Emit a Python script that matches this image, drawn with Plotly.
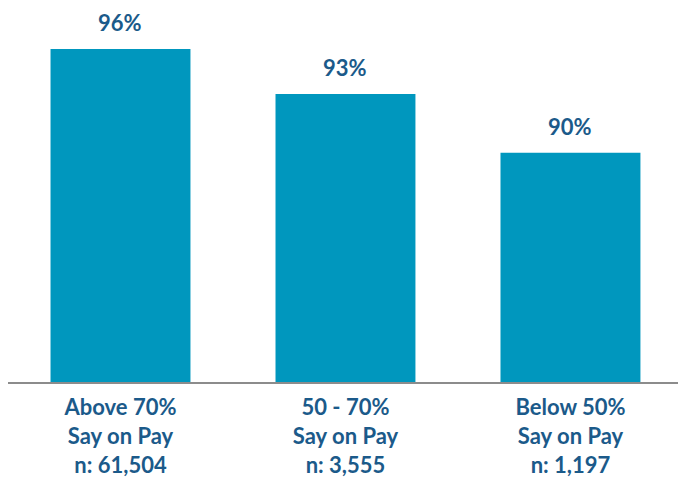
import plotly.graph_objects as go

categories = ["Above 70%<br>Say on Pay<br>n: 61,504",
              "50 - 70%<br>Say on Pay<br>n: 3,555",
              "Below 50%<br>Say on Pay<br>n: 1,197"]
values = [96.0, 93.4, 90.0]
labels = ["96%", "93%", "90%"]

bar_color = "#0097BE"
text_color = "#1B5A8A"
font_family = "Lato"

fig = go.Figure()
fig.add_trace(go.Bar(x=categories, y=values, marker_color=bar_color,
                     marker_line_width=0, width=0.622, hoverinfo="skip"))

for c, v, t in zip(categories, values, labels):
    fig.add_annotation(x=c, y=v, text="<b>%s</b>" % t, showarrow=False,
                       yanchor="bottom", yshift=11,
                       font=dict(size=22, color=text_color, family=font_family))

fig.update_layout(
    width=678, height=489,
    margin=dict(l=8, r=0, t=0, b=107),
    paper_bgcolor="white", plot_bgcolor="white",
    showlegend=False,
    xaxis=dict(range=[-0.5, 2.478], showline=True, linecolor="#8C8C8C",
               linewidth=2, ticks="", showgrid=False,
               ticklabelstandoff=5,
               tickfont=dict(size=22, color=text_color, family=font_family),
               tickvals=categories,
               ticktext=["<b>%s</b>" % c for c in categories]),
    yaxis=dict(range=[76.78, 98.82], visible=False, showgrid=False),
)
fig.write_html("out.html")
